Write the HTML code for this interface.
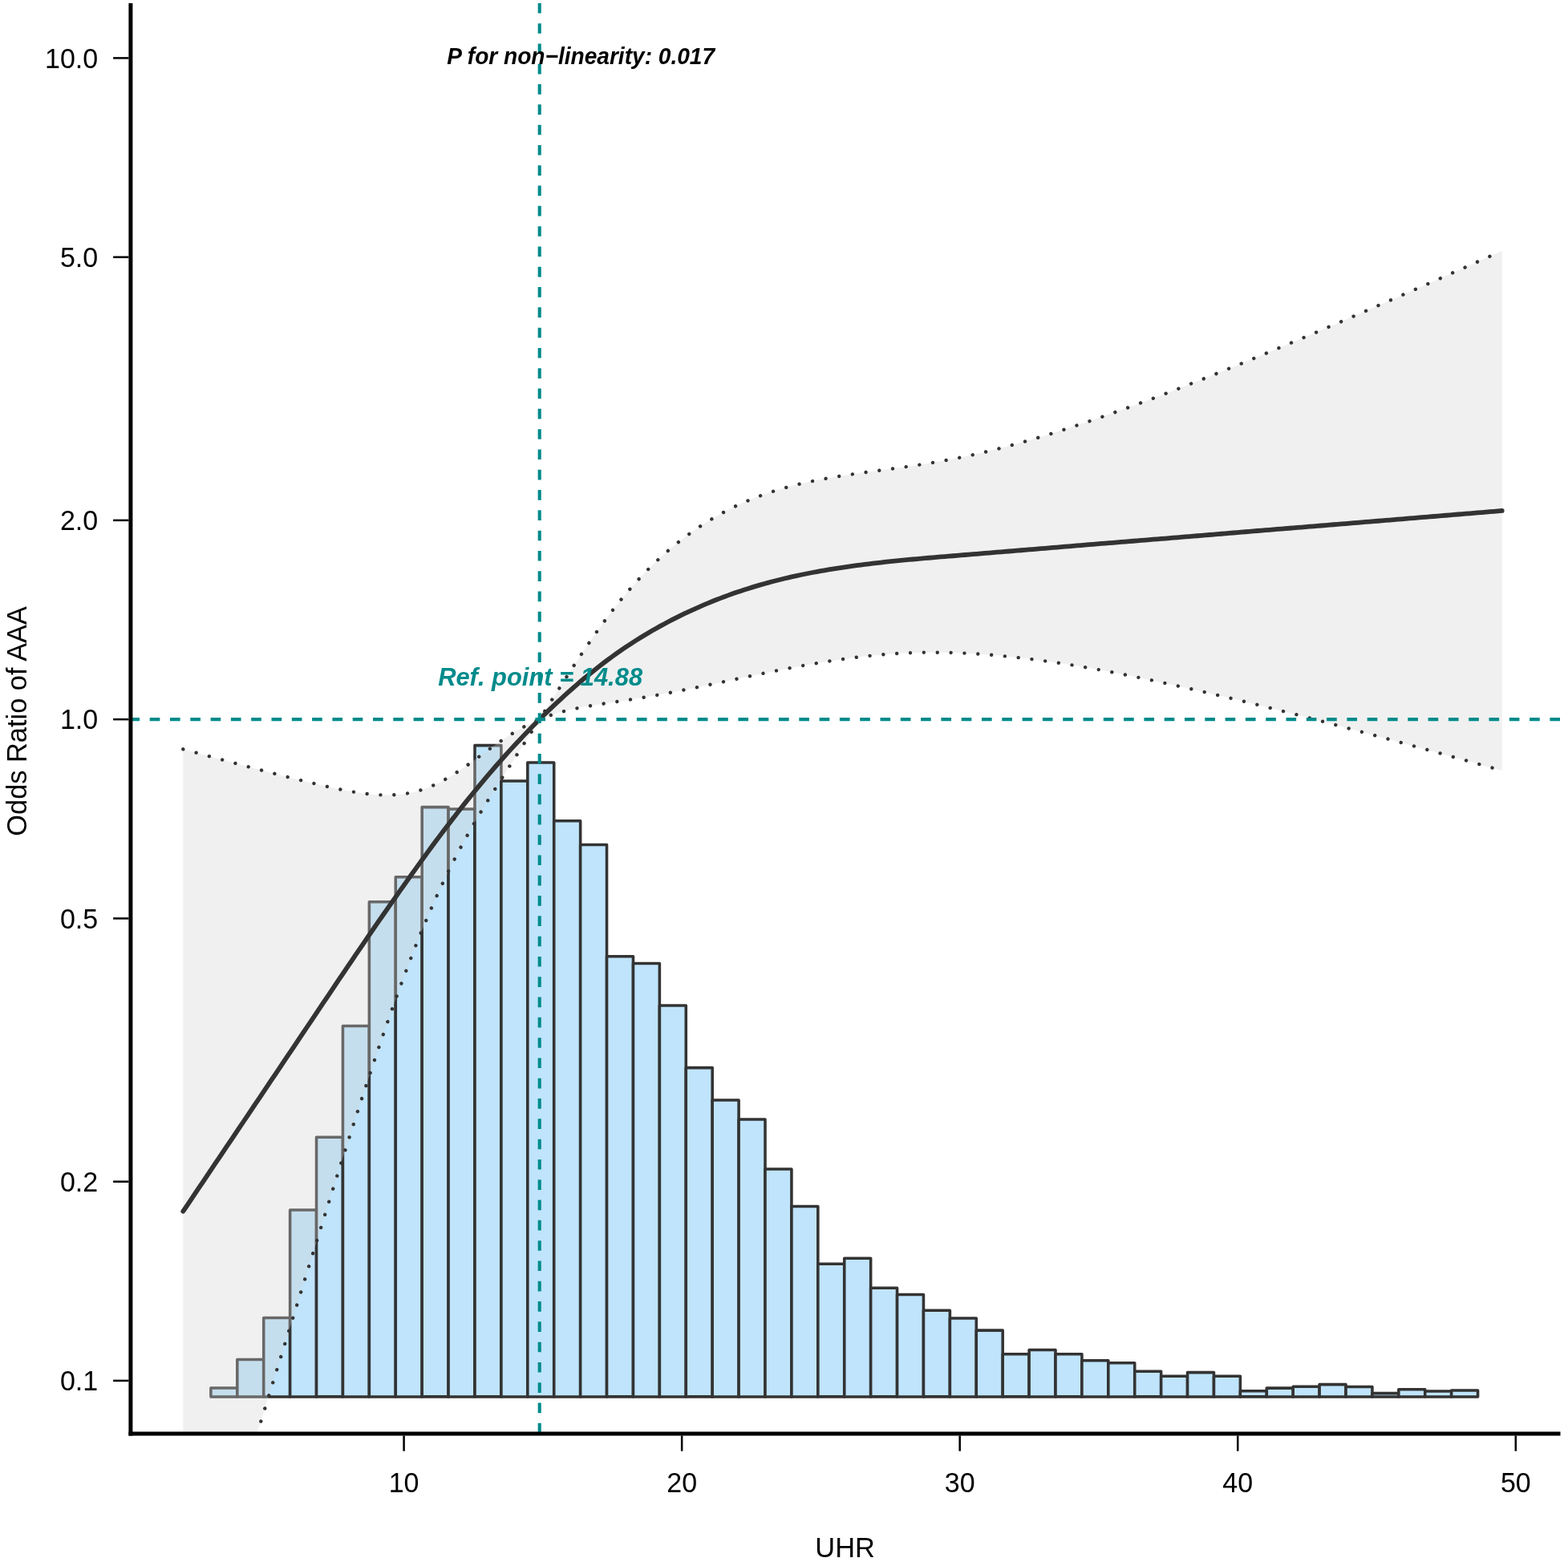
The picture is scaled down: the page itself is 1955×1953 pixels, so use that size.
<!DOCTYPE html>
<html lang="en">
<head>
<meta charset="utf-8">
<title>Odds Ratio of AAA vs UHR</title>
<style>
html,body{margin:0;padding:0;background:#ffffff;}
body{width:1955px;height:1953px;overflow:hidden;}
svg{display:block;}
</style>
</head>
<body>
<svg width="1955" height="1953" viewBox="0 0 1955 1953" font-family='"Liberation Sans", sans-serif'>
<rect x="0" y="0" width="1955" height="1953" fill="#ffffff"/>
<defs><clipPath id="panel"><rect x="162.9" y="4.0" width="1782.6" height="1783.9"/></clipPath></defs>
<g clip-path="url(#panel)">
<g fill="#bfe4fb" stroke="#333333" stroke-width="3.55" stroke-linejoin="round">
<rect x="262.90" y="1730.90" width="32.91" height="11.00"/>
<rect x="295.81" y="1695.50" width="32.91" height="46.40"/>
<rect x="328.72" y="1643.50" width="32.91" height="98.40"/>
<rect x="361.63" y="1509.00" width="32.91" height="232.90"/>
<rect x="394.54" y="1418.20" width="32.91" height="323.70"/>
<rect x="427.45" y="1279.50" width="32.91" height="462.40"/>
<rect x="460.36" y="1124.80" width="32.91" height="617.10"/>
<rect x="493.27" y="1093.80" width="32.91" height="648.10"/>
<rect x="526.18" y="1006.60" width="32.91" height="735.30"/>
<rect x="559.09" y="1008.90" width="32.91" height="733.00"/>
<rect x="592.00" y="929.60" width="32.91" height="812.30"/>
<rect x="624.91" y="974.00" width="32.91" height="767.90"/>
<rect x="657.82" y="951.00" width="32.91" height="790.90"/>
<rect x="690.73" y="1023.70" width="32.91" height="718.20"/>
<rect x="723.64" y="1053.40" width="32.91" height="688.50"/>
<rect x="756.55" y="1192.70" width="32.91" height="549.20"/>
<rect x="789.46" y="1201.50" width="32.91" height="540.40"/>
<rect x="822.37" y="1253.90" width="32.91" height="488.00"/>
<rect x="855.28" y="1331.60" width="32.91" height="410.30"/>
<rect x="888.19" y="1372.00" width="32.91" height="369.90"/>
<rect x="921.10" y="1395.90" width="32.91" height="346.00"/>
<rect x="954.01" y="1458.00" width="32.91" height="283.90"/>
<rect x="986.92" y="1504.50" width="32.91" height="237.40"/>
<rect x="1019.83" y="1576.20" width="32.91" height="165.70"/>
<rect x="1052.74" y="1569.30" width="32.91" height="172.60"/>
<rect x="1085.65" y="1606.20" width="32.91" height="135.70"/>
<rect x="1118.56" y="1614.50" width="32.91" height="127.40"/>
<rect x="1151.47" y="1634.20" width="32.91" height="107.70"/>
<rect x="1184.38" y="1643.90" width="32.91" height="98.00"/>
<rect x="1217.29" y="1659.10" width="32.91" height="82.80"/>
<rect x="1250.20" y="1688.70" width="32.91" height="53.20"/>
<rect x="1283.11" y="1683.50" width="32.91" height="58.40"/>
<rect x="1316.02" y="1688.70" width="32.91" height="53.20"/>
<rect x="1348.93" y="1696.80" width="32.91" height="45.10"/>
<rect x="1381.84" y="1699.80" width="32.91" height="42.10"/>
<rect x="1414.75" y="1710.20" width="32.91" height="31.70"/>
<rect x="1447.66" y="1716.30" width="32.91" height="25.60"/>
<rect x="1480.57" y="1711.60" width="32.91" height="30.30"/>
<rect x="1513.48" y="1716.30" width="32.91" height="25.60"/>
<rect x="1546.39" y="1734.70" width="32.91" height="7.20"/>
<rect x="1579.30" y="1731.10" width="32.91" height="10.80"/>
<rect x="1612.21" y="1729.30" width="32.91" height="12.60"/>
<rect x="1645.12" y="1726.60" width="32.91" height="15.30"/>
<rect x="1678.03" y="1729.50" width="32.91" height="12.40"/>
<rect x="1710.94" y="1737.60" width="32.91" height="4.30"/>
<rect x="1743.85" y="1732.80" width="32.91" height="9.10"/>
<rect x="1776.76" y="1734.90" width="32.91" height="7.00"/>
<rect x="1809.67" y="1734.00" width="32.91" height="7.90"/>
</g>
<path d="M228.30,934.33L233.30,935.69L238.30,937.04L243.29,938.39L248.29,939.75L253.29,941.10L258.29,942.45L263.29,943.80L268.29,945.14L273.28,946.49L278.28,947.84L283.28,949.18L288.28,950.53L293.28,951.87L298.27,953.21L303.27,954.55L308.27,955.88L313.27,957.21L318.27,958.53L323.27,959.85L328.26,961.17L333.26,962.47L338.26,963.78L343.26,965.07L348.26,966.36L353.25,967.64L358.25,968.91L363.25,970.17L368.25,971.43L373.25,972.67L378.25,973.91L383.24,975.13L388.24,976.34L393.24,977.54L398.24,978.72L403.24,979.89L408.23,981.03L413.23,982.14L418.23,983.22L423.23,984.27L428.23,985.28L433.23,986.24L438.22,987.15L443.22,988.00L448.22,988.78L453.22,989.48L458.22,990.11L463.21,990.63L468.21,991.05L473.21,991.36L478.21,991.54L483.21,991.58L488.21,991.48L493.20,991.22L498.20,990.79L503.20,990.18L508.20,989.38L513.20,988.39L518.19,987.20L523.19,985.81L528.19,984.21L533.19,982.39L538.19,980.36L543.19,978.13L548.18,975.70L553.18,973.08L558.18,970.27L563.18,967.28L568.18,964.14L573.17,960.86L578.17,957.46L583.17,953.96L588.17,950.39L593.17,946.75L598.17,943.08L603.16,939.41L608.16,935.74L613.16,932.11L618.16,928.54L623.16,925.05L628.15,921.64L633.15,918.34L638.15,915.16L643.15,912.11L648.15,909.21L653.14,906.46L658.14,903.86L663.14,901.41L668.14,899.11L672.72,897.15L673.14,896.49L678.14,888.61L683.13,880.74L688.13,872.86L693.13,865.00L698.13,857.15L703.13,849.33L708.12,841.55L713.12,833.82L718.12,826.16L723.12,818.58L728.12,811.09L733.12,803.70L738.11,796.42L743.11,789.26L748.11,782.23L753.11,775.35L758.11,768.62L763.10,762.03L768.10,755.61L773.10,749.34L778.10,743.24L783.10,737.31L788.10,731.55L793.09,725.95L798.09,720.51L803.09,715.23L808.09,710.11L813.09,705.15L818.08,700.33L823.08,695.67L828.08,691.14L833.08,686.76L838.08,682.51L843.08,678.40L848.07,674.41L853.07,670.55L858.07,666.82L863.07,663.20L868.07,659.71L873.06,656.33L878.06,653.07L883.06,649.92L888.06,646.88L893.06,643.95L898.06,641.13L903.05,638.41L908.05,635.79L913.05,633.28L918.05,630.86L923.05,628.53L928.04,626.30L933.04,624.16L938.04,622.10L943.04,620.13L948.04,618.25L953.04,616.44L958.03,614.72L963.03,613.06L968.03,611.48L973.03,609.97L978.03,608.53L983.02,607.15L988.02,605.83L993.02,604.57L998.02,603.36L1003.02,602.21L1008.02,601.10L1013.01,600.04L1018.01,599.02L1023.01,598.05L1028.01,597.11L1033.01,596.21L1038.00,595.34L1043.00,594.50L1048.00,593.68L1053.00,592.90L1058.00,592.13L1063.00,591.39L1067.99,590.66L1072.99,589.95L1077.99,589.25L1082.99,588.55L1087.99,587.87L1092.98,587.19L1097.98,586.51L1102.98,585.84L1107.98,585.16L1112.98,584.47L1117.98,583.78L1122.97,583.08L1127.97,582.37L1132.97,581.65L1137.97,580.92L1142.97,580.16L1147.96,579.39L1152.96,578.60L1157.96,577.79L1162.96,576.96L1167.96,576.11L1172.96,575.23L1177.95,574.33L1182.95,573.40L1187.95,572.44L1192.95,571.45L1197.95,570.44L1202.94,569.40L1207.94,568.33L1212.94,567.24L1217.94,566.11L1222.94,564.96L1227.94,563.78L1232.93,562.57L1237.93,561.34L1242.93,560.08L1247.93,558.80L1252.93,557.49L1257.92,556.16L1262.92,554.80L1267.92,553.43L1272.92,552.03L1277.92,550.61L1282.92,549.17L1287.91,547.71L1292.91,546.23L1297.91,544.73L1302.91,543.21L1307.91,541.68L1312.90,540.13L1317.90,538.56L1322.90,536.97L1327.90,535.37L1332.90,533.75L1337.90,532.12L1342.89,530.47L1347.89,528.81L1352.89,527.13L1357.89,525.43L1362.89,523.73L1367.88,522.01L1372.88,520.27L1377.88,518.53L1382.88,516.77L1387.88,515.00L1392.88,513.21L1397.87,511.42L1402.87,509.62L1407.87,507.80L1412.87,505.98L1417.87,504.14L1422.86,502.30L1427.86,500.44L1432.86,498.58L1437.86,496.71L1442.86,494.83L1447.86,492.93L1452.85,491.03L1457.85,489.12L1462.85,487.20L1467.85,485.28L1472.85,483.34L1477.84,481.39L1482.84,479.44L1487.84,477.48L1492.84,475.51L1497.84,473.53L1502.83,471.54L1507.83,469.55L1512.83,467.55L1517.83,465.54L1522.83,463.52L1527.83,461.50L1532.82,459.48L1537.82,457.44L1542.82,455.40L1547.82,453.36L1552.82,451.31L1557.81,449.26L1562.81,447.20L1567.81,445.14L1572.81,443.07L1577.81,441.00L1582.81,438.93L1587.80,436.85L1592.80,434.77L1597.80,432.68L1602.80,430.59L1607.80,428.50L1612.79,426.40L1617.79,424.30L1622.79,422.19L1627.79,420.08L1632.79,417.96L1637.79,415.84L1642.78,413.72L1647.78,411.59L1652.78,409.45L1657.78,407.31L1662.78,405.16L1667.77,403.01L1672.77,400.86L1677.77,398.70L1682.77,396.54L1687.77,394.38L1692.77,392.21L1697.76,390.04L1702.76,387.87L1707.76,385.70L1712.76,383.53L1717.76,381.35L1722.75,379.18L1727.75,377.00L1732.75,374.82L1737.75,372.64L1742.75,370.45L1747.75,368.26L1752.74,366.08L1757.74,363.89L1762.74,361.69L1767.74,359.50L1772.74,357.30L1777.73,355.10L1782.73,352.90L1787.73,350.69L1792.73,348.48L1797.73,346.27L1802.73,344.06L1807.72,341.85L1812.72,339.63L1817.72,337.42L1822.72,335.20L1827.72,332.98L1832.71,330.75L1837.71,328.53L1842.71,326.30L1847.71,324.07L1852.71,321.84L1857.71,319.60L1862.70,317.36L1867.70,315.12L1872.70,312.88L1872.70,961.04L1867.70,959.63L1862.70,958.22L1857.71,956.81L1852.71,955.40L1847.71,953.99L1842.71,952.59L1837.71,951.19L1832.71,949.79L1827.72,948.39L1822.72,947.00L1817.72,945.61L1812.72,944.22L1807.72,942.83L1802.73,941.44L1797.73,940.06L1792.73,938.68L1787.73,937.30L1782.73,935.92L1777.73,934.54L1772.74,933.17L1767.74,931.80L1762.74,930.42L1757.74,929.05L1752.74,927.68L1747.75,926.31L1742.75,924.95L1737.75,923.58L1732.75,922.21L1727.75,920.85L1722.75,919.49L1717.76,918.13L1712.76,916.78L1707.76,915.42L1702.76,914.07L1697.76,912.72L1692.77,911.38L1687.77,910.03L1682.77,908.69L1677.77,907.36L1672.77,906.02L1667.77,904.69L1662.78,903.36L1657.78,902.04L1652.78,900.72L1647.78,899.40L1642.78,898.09L1637.79,896.78L1632.79,895.47L1627.79,894.17L1622.79,892.87L1617.79,891.57L1612.79,890.28L1607.80,888.99L1602.80,887.71L1597.80,886.44L1592.80,885.16L1587.80,883.90L1582.81,882.64L1577.81,881.38L1572.81,880.13L1567.81,878.89L1562.81,877.65L1557.81,876.42L1552.82,875.20L1547.82,873.98L1542.82,872.77L1537.82,871.56L1532.82,870.37L1527.83,869.17L1522.83,867.98L1517.83,866.80L1512.83,865.63L1507.83,864.46L1502.83,863.29L1497.84,862.13L1492.84,860.98L1487.84,859.84L1482.84,858.70L1477.84,857.56L1472.85,856.43L1467.85,855.31L1462.85,854.20L1457.85,853.10L1452.85,852.00L1447.86,850.91L1442.86,849.83L1437.86,848.75L1432.86,847.69L1427.86,846.63L1422.86,845.58L1417.87,844.54L1412.87,843.52L1407.87,842.50L1402.87,841.49L1397.87,840.49L1392.88,839.51L1387.88,838.53L1382.88,837.57L1377.88,836.63L1372.88,835.70L1367.88,834.78L1362.89,833.87L1357.89,832.99L1352.89,832.12L1347.89,831.26L1342.89,830.42L1337.90,829.60L1332.90,828.79L1327.90,828.00L1322.90,827.23L1317.90,826.48L1312.90,825.74L1307.91,825.02L1302.91,824.32L1297.91,823.64L1292.91,822.97L1287.91,822.33L1282.92,821.70L1277.92,821.09L1272.92,820.50L1267.92,819.92L1262.92,819.37L1257.92,818.84L1252.93,818.34L1247.93,817.85L1242.93,817.39L1237.93,816.95L1232.93,816.54L1227.94,816.15L1222.94,815.79L1217.94,815.46L1212.94,815.15L1207.94,814.87L1202.94,814.62L1197.95,814.40L1192.95,814.20L1187.95,814.04L1182.95,813.90L1177.95,813.80L1172.96,813.73L1167.96,813.69L1162.96,813.68L1157.96,813.70L1152.96,813.75L1147.96,813.84L1142.97,813.96L1137.97,814.11L1132.97,814.30L1127.97,814.52L1122.97,814.78L1117.98,815.07L1112.98,815.39L1107.98,815.74L1102.98,816.13L1097.98,816.55L1092.98,817.00L1087.99,817.49L1082.99,818.00L1077.99,818.55L1072.99,819.12L1067.99,819.72L1063.00,820.35L1058.00,821.01L1053.00,821.69L1048.00,822.40L1043.00,823.13L1038.00,823.88L1033.01,824.66L1028.01,825.46L1023.01,826.28L1018.01,827.12L1013.01,827.98L1008.02,828.86L1003.02,829.75L998.02,830.67L993.02,831.60L988.02,832.54L983.02,833.50L978.03,834.47L973.03,835.46L968.03,836.45L963.03,837.46L958.03,838.48L953.04,839.50L948.04,840.54L943.04,841.58L938.04,842.62L933.04,843.68L928.04,844.74L923.05,845.80L918.05,846.86L913.05,847.92L908.05,848.99L903.05,850.05L898.06,851.11L893.06,852.17L888.06,853.22L883.06,854.27L878.06,855.31L873.06,856.35L868.07,857.38L863.07,858.39L858.07,859.40L853.07,860.40L848.07,861.39L843.08,862.36L838.08,863.32L833.08,864.27L828.08,865.21L823.08,866.13L818.08,867.03L813.09,867.92L808.09,868.79L803.09,869.64L798.09,870.48L793.09,871.30L788.10,872.10L783.10,872.89L778.10,873.67L773.10,874.44L768.10,875.20L763.10,875.95L758.11,876.71L753.11,877.47L748.11,878.24L743.11,879.04L738.11,879.85L733.12,880.71L728.12,881.60L723.12,882.55L718.12,883.56L713.12,884.63L708.12,885.79L703.13,887.04L698.13,888.39L693.13,889.85L688.13,891.43L683.13,893.14L678.14,894.99L673.14,896.98L672.72,897.15L668.14,904.34L663.14,912.18L658.14,920.00L653.14,927.80L648.15,935.59L643.15,943.38L638.15,951.16L633.15,958.95L628.15,966.76L623.16,974.60L618.16,982.50L613.16,990.47L608.16,998.53L603.16,1006.69L598.17,1014.98L593.17,1023.42L588.17,1032.04L583.17,1040.85L578.17,1049.88L573.17,1059.15L568.18,1068.67L563.18,1078.45L558.18,1088.52L553.18,1098.88L548.18,1109.55L543.19,1120.51L538.19,1131.79L533.19,1143.37L528.19,1155.26L523.19,1167.45L518.19,1179.94L513.20,1192.70L508.20,1205.74L503.20,1219.04L498.20,1232.59L493.20,1246.37L488.21,1260.37L483.21,1274.58L478.21,1288.99L473.21,1303.59L468.21,1318.35L463.21,1333.28L458.22,1348.35L453.22,1363.57L448.22,1378.91L443.22,1394.37L438.22,1409.93L433.23,1425.60L428.23,1441.34L423.23,1457.16L418.23,1473.05L413.23,1488.99L408.23,1504.98L403.24,1521.01L398.24,1537.07L393.24,1553.15L388.24,1569.25L383.24,1585.37L378.25,1601.49L373.25,1617.62L368.25,1633.76L363.25,1649.91L358.25,1666.06L353.25,1682.22L348.26,1698.37L343.26,1714.54L338.26,1730.70L333.26,1746.87L328.26,1763.04L323.27,1779.22L318.27,1790.90L313.27,1790.90L308.27,1790.90L303.27,1790.90L298.27,1790.90L293.28,1790.90L288.28,1790.90L283.28,1790.90L278.28,1790.90L273.28,1790.90L268.29,1790.90L263.29,1790.90L258.29,1790.90L253.29,1790.90L248.29,1790.90L243.29,1790.90L238.30,1790.90L233.30,1790.90L228.30,1790.90Z" fill="rgb(211,211,211)" fill-opacity="0.335" stroke="none"/>
</g>
<g clip-path="url(#panel)">
<path d="M228.30,934.33L233.30,935.69L238.30,937.04L243.29,938.39L248.29,939.75L253.29,941.10L258.29,942.45L263.29,943.80L268.29,945.14L273.28,946.49L278.28,947.84L283.28,949.18L288.28,950.53L293.28,951.87L298.27,953.21L303.27,954.55L308.27,955.88L313.27,957.21L318.27,958.53L323.27,959.85L328.26,961.17L333.26,962.47L338.26,963.78L343.26,965.07L348.26,966.36L353.25,967.64L358.25,968.91L363.25,970.17L368.25,971.43L373.25,972.67L378.25,973.91L383.24,975.13L388.24,976.34L393.24,977.54L398.24,978.72L403.24,979.89L408.23,981.03L413.23,982.14L418.23,983.22L423.23,984.27L428.23,985.28L433.23,986.24L438.22,987.15L443.22,988.00L448.22,988.78L453.22,989.48L458.22,990.11L463.21,990.63L468.21,991.05L473.21,991.36L478.21,991.54L483.21,991.58L488.21,991.48L493.20,991.22L498.20,990.79L503.20,990.18L508.20,989.38L513.20,988.39L518.19,987.20L523.19,985.81L528.19,984.21L533.19,982.39L538.19,980.36L543.19,978.13L548.18,975.70L553.18,973.08L558.18,970.27L563.18,967.28L568.18,964.14L573.17,960.86L578.17,957.46L583.17,953.96L588.17,950.39L593.17,946.75L598.17,943.08L603.16,939.41L608.16,935.74L613.16,932.11L618.16,928.54L623.16,925.05L628.15,921.64L633.15,918.34L638.15,915.16L643.15,912.11L648.15,909.21L653.14,906.46L658.14,903.86L663.14,901.41L668.14,899.11L672.72,897.15L673.14,896.49L678.14,888.61L683.13,880.74L688.13,872.86L693.13,865.00L698.13,857.15L703.13,849.33L708.12,841.55L713.12,833.82L718.12,826.16L723.12,818.58L728.12,811.09L733.12,803.70L738.11,796.42L743.11,789.26L748.11,782.23L753.11,775.35L758.11,768.62L763.10,762.03L768.10,755.61L773.10,749.34L778.10,743.24L783.10,737.31L788.10,731.55L793.09,725.95L798.09,720.51L803.09,715.23L808.09,710.11L813.09,705.15L818.08,700.33L823.08,695.67L828.08,691.14L833.08,686.76L838.08,682.51L843.08,678.40L848.07,674.41L853.07,670.55L858.07,666.82L863.07,663.20L868.07,659.71L873.06,656.33L878.06,653.07L883.06,649.92L888.06,646.88L893.06,643.95L898.06,641.13L903.05,638.41L908.05,635.79L913.05,633.28L918.05,630.86L923.05,628.53L928.04,626.30L933.04,624.16L938.04,622.10L943.04,620.13L948.04,618.25L953.04,616.44L958.03,614.72L963.03,613.06L968.03,611.48L973.03,609.97L978.03,608.53L983.02,607.15L988.02,605.83L993.02,604.57L998.02,603.36L1003.02,602.21L1008.02,601.10L1013.01,600.04L1018.01,599.02L1023.01,598.05L1028.01,597.11L1033.01,596.21L1038.00,595.34L1043.00,594.50L1048.00,593.68L1053.00,592.90L1058.00,592.13L1063.00,591.39L1067.99,590.66L1072.99,589.95L1077.99,589.25L1082.99,588.55L1087.99,587.87L1092.98,587.19L1097.98,586.51L1102.98,585.84L1107.98,585.16L1112.98,584.47L1117.98,583.78L1122.97,583.08L1127.97,582.37L1132.97,581.65L1137.97,580.92L1142.97,580.16L1147.96,579.39L1152.96,578.60L1157.96,577.79L1162.96,576.96L1167.96,576.11L1172.96,575.23L1177.95,574.33L1182.95,573.40L1187.95,572.44L1192.95,571.45L1197.95,570.44L1202.94,569.40L1207.94,568.33L1212.94,567.24L1217.94,566.11L1222.94,564.96L1227.94,563.78L1232.93,562.57L1237.93,561.34L1242.93,560.08L1247.93,558.80L1252.93,557.49L1257.92,556.16L1262.92,554.80L1267.92,553.43L1272.92,552.03L1277.92,550.61L1282.92,549.17L1287.91,547.71L1292.91,546.23L1297.91,544.73L1302.91,543.21L1307.91,541.68L1312.90,540.13L1317.90,538.56L1322.90,536.97L1327.90,535.37L1332.90,533.75L1337.90,532.12L1342.89,530.47L1347.89,528.81L1352.89,527.13L1357.89,525.43L1362.89,523.73L1367.88,522.01L1372.88,520.27L1377.88,518.53L1382.88,516.77L1387.88,515.00L1392.88,513.21L1397.87,511.42L1402.87,509.62L1407.87,507.80L1412.87,505.98L1417.87,504.14L1422.86,502.30L1427.86,500.44L1432.86,498.58L1437.86,496.71L1442.86,494.83L1447.86,492.93L1452.85,491.03L1457.85,489.12L1462.85,487.20L1467.85,485.28L1472.85,483.34L1477.84,481.39L1482.84,479.44L1487.84,477.48L1492.84,475.51L1497.84,473.53L1502.83,471.54L1507.83,469.55L1512.83,467.55L1517.83,465.54L1522.83,463.52L1527.83,461.50L1532.82,459.48L1537.82,457.44L1542.82,455.40L1547.82,453.36L1552.82,451.31L1557.81,449.26L1562.81,447.20L1567.81,445.14L1572.81,443.07L1577.81,441.00L1582.81,438.93L1587.80,436.85L1592.80,434.77L1597.80,432.68L1602.80,430.59L1607.80,428.50L1612.79,426.40L1617.79,424.30L1622.79,422.19L1627.79,420.08L1632.79,417.96L1637.79,415.84L1642.78,413.72L1647.78,411.59L1652.78,409.45L1657.78,407.31L1662.78,405.16L1667.77,403.01L1672.77,400.86L1677.77,398.70L1682.77,396.54L1687.77,394.38L1692.77,392.21L1697.76,390.04L1702.76,387.87L1707.76,385.70L1712.76,383.53L1717.76,381.35L1722.75,379.18L1727.75,377.00L1732.75,374.82L1737.75,372.64L1742.75,370.45L1747.75,368.26L1752.74,366.08L1757.74,363.89L1762.74,361.69L1767.74,359.50L1772.74,357.30L1777.73,355.10L1782.73,352.90L1787.73,350.69L1792.73,348.48L1797.73,346.27L1802.73,344.06L1807.72,341.85L1812.72,339.63L1817.72,337.42L1822.72,335.20L1827.72,332.98L1832.71,330.75L1837.71,328.53L1842.71,326.30L1847.71,324.07L1852.71,321.84L1857.71,319.60L1862.70,317.36L1867.70,315.12L1872.70,312.88" fill="none" stroke="#333333" stroke-width="4.4" stroke-linecap="round" stroke-dasharray="0.01 16.857" stroke-dashoffset="0.0"/>
<path d="M228.30,2087.08L233.30,2070.86L238.30,2054.63L243.29,2038.41L248.29,2022.19L253.29,2005.98L258.29,1989.76L263.29,1973.55L268.29,1957.34L273.28,1941.13L278.28,1924.93L283.28,1908.73L288.28,1892.53L293.28,1876.33L298.27,1860.14L303.27,1843.95L308.27,1827.76L313.27,1811.58L318.27,1795.39L323.27,1779.22L328.26,1763.04L333.26,1746.87L338.26,1730.70L343.26,1714.54L348.26,1698.37L353.25,1682.22L358.25,1666.06L363.25,1649.91L368.25,1633.76L373.25,1617.62L378.25,1601.49L383.24,1585.37L388.24,1569.25L393.24,1553.15L398.24,1537.07L403.24,1521.01L408.23,1504.98L413.23,1488.99L418.23,1473.05L423.23,1457.16L428.23,1441.34L433.23,1425.60L438.22,1409.93L443.22,1394.37L448.22,1378.91L453.22,1363.57L458.22,1348.35L463.21,1333.28L468.21,1318.35L473.21,1303.59L478.21,1288.99L483.21,1274.58L488.21,1260.37L493.20,1246.37L498.20,1232.59L503.20,1219.04L508.20,1205.74L513.20,1192.70L518.19,1179.94L523.19,1167.45L528.19,1155.26L533.19,1143.37L538.19,1131.79L543.19,1120.51L548.18,1109.55L553.18,1098.88L558.18,1088.52L563.18,1078.45L568.18,1068.67L573.17,1059.15L578.17,1049.88L583.17,1040.85L588.17,1032.04L593.17,1023.42L598.17,1014.98L603.16,1006.69L608.16,998.53L613.16,990.47L618.16,982.50L623.16,974.60L628.15,966.76L633.15,958.95L638.15,951.16L643.15,943.38L648.15,935.59L653.14,927.80L658.14,920.00L663.14,912.18L668.14,904.34L672.72,897.15L673.14,896.98L678.14,894.99L683.13,893.14L688.13,891.43L693.13,889.85L698.13,888.39L703.13,887.04L708.12,885.79L713.12,884.63L718.12,883.56L723.12,882.55L728.12,881.60L733.12,880.71L738.11,879.85L743.11,879.04L748.11,878.24L753.11,877.47L758.11,876.71L763.10,875.95L768.10,875.20L773.10,874.44L778.10,873.67L783.10,872.89L788.10,872.10L793.09,871.30L798.09,870.48L803.09,869.64L808.09,868.79L813.09,867.92L818.08,867.03L823.08,866.13L828.08,865.21L833.08,864.27L838.08,863.32L843.08,862.36L848.07,861.39L853.07,860.40L858.07,859.40L863.07,858.39L868.07,857.38L873.06,856.35L878.06,855.31L883.06,854.27L888.06,853.22L893.06,852.17L898.06,851.11L903.05,850.05L908.05,848.99L913.05,847.92L918.05,846.86L923.05,845.80L928.04,844.74L933.04,843.68L938.04,842.62L943.04,841.58L948.04,840.54L953.04,839.50L958.03,838.48L963.03,837.46L968.03,836.45L973.03,835.46L978.03,834.47L983.02,833.50L988.02,832.54L993.02,831.60L998.02,830.67L1003.02,829.75L1008.02,828.86L1013.01,827.98L1018.01,827.12L1023.01,826.28L1028.01,825.46L1033.01,824.66L1038.00,823.88L1043.00,823.13L1048.00,822.40L1053.00,821.69L1058.00,821.01L1063.00,820.35L1067.99,819.72L1072.99,819.12L1077.99,818.55L1082.99,818.00L1087.99,817.49L1092.98,817.00L1097.98,816.55L1102.98,816.13L1107.98,815.74L1112.98,815.39L1117.98,815.07L1122.97,814.78L1127.97,814.52L1132.97,814.30L1137.97,814.11L1142.97,813.96L1147.96,813.84L1152.96,813.75L1157.96,813.70L1162.96,813.68L1167.96,813.69L1172.96,813.73L1177.95,813.80L1182.95,813.90L1187.95,814.04L1192.95,814.20L1197.95,814.40L1202.94,814.62L1207.94,814.87L1212.94,815.15L1217.94,815.46L1222.94,815.79L1227.94,816.15L1232.93,816.54L1237.93,816.95L1242.93,817.39L1247.93,817.85L1252.93,818.34L1257.92,818.84L1262.92,819.37L1267.92,819.92L1272.92,820.50L1277.92,821.09L1282.92,821.70L1287.91,822.33L1292.91,822.97L1297.91,823.64L1302.91,824.32L1307.91,825.02L1312.90,825.74L1317.90,826.48L1322.90,827.23L1327.90,828.00L1332.90,828.79L1337.90,829.60L1342.89,830.42L1347.89,831.26L1352.89,832.12L1357.89,832.99L1362.89,833.87L1367.88,834.78L1372.88,835.70L1377.88,836.63L1382.88,837.57L1387.88,838.53L1392.88,839.51L1397.87,840.49L1402.87,841.49L1407.87,842.50L1412.87,843.52L1417.87,844.54L1422.86,845.58L1427.86,846.63L1432.86,847.69L1437.86,848.75L1442.86,849.83L1447.86,850.91L1452.85,852.00L1457.85,853.10L1462.85,854.20L1467.85,855.31L1472.85,856.43L1477.84,857.56L1482.84,858.70L1487.84,859.84L1492.84,860.98L1497.84,862.13L1502.83,863.29L1507.83,864.46L1512.83,865.63L1517.83,866.80L1522.83,867.98L1527.83,869.17L1532.82,870.37L1537.82,871.56L1542.82,872.77L1547.82,873.98L1552.82,875.20L1557.81,876.42L1562.81,877.65L1567.81,878.89L1572.81,880.13L1577.81,881.38L1582.81,882.64L1587.80,883.90L1592.80,885.16L1597.80,886.44L1602.80,887.71L1607.80,888.99L1612.79,890.28L1617.79,891.57L1622.79,892.87L1627.79,894.17L1632.79,895.47L1637.79,896.78L1642.78,898.09L1647.78,899.40L1652.78,900.72L1657.78,902.04L1662.78,903.36L1667.77,904.69L1672.77,906.02L1677.77,907.36L1682.77,908.69L1687.77,910.03L1692.77,911.38L1697.76,912.72L1702.76,914.07L1707.76,915.42L1712.76,916.78L1717.76,918.13L1722.75,919.49L1727.75,920.85L1732.75,922.21L1737.75,923.58L1742.75,924.95L1747.75,926.31L1752.74,927.68L1757.74,929.05L1762.74,930.42L1767.74,931.80L1772.74,933.17L1777.73,934.54L1782.73,935.92L1787.73,937.30L1792.73,938.68L1797.73,940.06L1802.73,941.44L1807.72,942.83L1812.72,944.22L1817.72,945.61L1822.72,947.00L1827.72,948.39L1832.71,949.79L1837.71,951.19L1842.71,952.59L1847.71,953.99L1852.71,955.40L1857.71,956.81L1862.70,958.22L1867.70,959.63L1872.70,961.04" fill="none" stroke="#333333" stroke-width="4.4" stroke-linecap="round" stroke-dasharray="0.01 16.857" stroke-dashoffset="-8.63"/>
<path d="M228.30,1510.71L233.30,1503.27L238.30,1495.84L243.29,1488.40L248.29,1480.97L253.29,1473.54L258.29,1466.10L263.29,1458.67L268.29,1451.24L273.28,1443.81L278.28,1436.38L283.28,1428.95L288.28,1421.53L293.28,1414.10L298.27,1406.67L303.27,1399.25L308.27,1391.82L313.27,1384.39L318.27,1376.96L323.27,1369.53L328.26,1362.10L333.26,1354.67L338.26,1347.24L343.26,1339.80L348.26,1332.37L353.25,1324.93L358.25,1317.48L363.25,1310.04L368.25,1302.59L373.25,1295.15L378.25,1287.70L383.24,1280.25L388.24,1272.80L393.24,1265.35L398.24,1257.90L403.24,1250.45L408.23,1243.01L413.23,1235.57L418.23,1228.14L423.23,1220.72L428.23,1213.31L433.23,1205.92L438.22,1198.54L443.22,1191.18L448.22,1183.84L453.22,1176.53L458.22,1169.23L463.21,1161.96L468.21,1154.70L473.21,1147.47L478.21,1140.27L483.21,1133.08L488.21,1125.92L493.20,1118.79L498.20,1111.69L503.20,1104.61L508.20,1097.56L513.20,1090.55L518.19,1083.57L523.19,1076.63L528.19,1069.73L533.19,1062.88L538.19,1056.08L543.19,1049.32L548.18,1042.62L553.18,1035.98L558.18,1029.39L563.18,1022.87L568.18,1016.40L573.17,1010.00L578.17,1003.67L583.17,997.41L588.17,991.21L593.17,985.09L598.17,979.03L603.16,973.05L608.16,967.13L613.16,961.29L618.16,955.52L623.16,949.82L628.15,944.20L633.15,938.64L638.15,933.16L643.15,927.75L648.15,922.40L653.14,917.13L658.14,911.93L663.14,906.79L668.14,901.73L672.72,897.15L673.14,896.73L678.14,891.80L683.13,886.94L688.13,882.15L693.13,877.42L698.13,872.77L703.13,868.18L708.12,863.67L713.12,859.23L718.12,854.86L723.12,850.56L728.12,846.34L733.12,842.20L738.11,838.14L743.11,834.15L748.11,830.24L753.11,826.41L758.11,822.66L763.10,818.99L768.10,815.40L773.10,811.89L778.10,808.46L783.10,805.10L788.10,801.83L793.09,798.62L798.09,795.49L803.09,792.44L808.09,789.45L813.09,786.53L818.08,783.68L823.08,780.90L828.08,778.18L833.08,775.52L838.08,772.92L843.08,770.38L848.07,767.90L853.07,765.48L858.07,763.11L863.07,760.80L868.07,758.54L873.06,756.34L878.06,754.19L883.06,752.10L888.06,750.05L893.06,748.06L898.06,746.12L903.05,744.23L908.05,742.39L913.05,740.60L918.05,738.86L923.05,737.16L928.04,735.52L933.04,733.92L938.04,732.36L943.04,730.86L948.04,729.39L953.04,727.97L958.03,726.60L963.03,725.26L968.03,723.97L973.03,722.71L978.03,721.50L983.02,720.32L988.02,719.19L993.02,718.08L998.02,717.01L1003.02,715.98L1008.02,714.98L1013.01,714.01L1018.01,713.07L1023.01,712.16L1028.01,711.28L1033.01,710.43L1038.00,709.61L1043.00,708.81L1048.00,708.04L1053.00,707.29L1058.00,706.57L1063.00,705.87L1067.99,705.19L1072.99,704.53L1077.99,703.90L1082.99,703.28L1087.99,702.68L1092.98,702.10L1097.98,701.53L1102.98,700.98L1107.98,700.45L1112.98,699.93L1117.98,699.42L1122.97,698.93L1127.97,698.45L1132.97,697.98L1137.97,697.51L1142.97,697.06L1147.96,696.62L1152.96,696.18L1157.96,695.75L1162.96,695.32L1167.96,694.90L1172.96,694.48L1177.95,694.06L1182.95,693.65L1187.95,693.24L1192.95,692.83L1197.95,692.42L1202.94,692.01L1207.94,691.60L1212.94,691.19L1217.94,690.78L1222.94,690.37L1227.94,689.97L1232.93,689.56L1237.93,689.15L1242.93,688.73L1247.93,688.32L1252.93,687.91L1257.92,687.50L1262.92,687.09L1267.92,686.67L1272.92,686.26L1277.92,685.85L1282.92,685.43L1287.91,685.02L1292.91,684.60L1297.91,684.18L1302.91,683.77L1307.91,683.35L1312.90,682.93L1317.90,682.52L1322.90,682.10L1327.90,681.69L1332.90,681.27L1337.90,680.86L1342.89,680.44L1347.89,680.03L1352.89,679.62L1357.89,679.21L1362.89,678.80L1367.88,678.39L1372.88,677.98L1377.88,677.58L1382.88,677.17L1387.88,676.77L1392.88,676.36L1397.87,675.96L1402.87,675.55L1407.87,675.15L1412.87,674.75L1417.87,674.34L1422.86,673.94L1427.86,673.54L1432.86,673.13L1437.86,672.73L1442.86,672.33L1447.86,671.92L1452.85,671.52L1457.85,671.11L1462.85,670.70L1467.85,670.30L1472.85,669.89L1477.84,669.48L1482.84,669.07L1487.84,668.66L1492.84,668.24L1497.84,667.83L1502.83,667.42L1507.83,667.00L1512.83,666.59L1517.83,666.17L1522.83,665.75L1527.83,665.34L1532.82,664.92L1537.82,664.50L1542.82,664.09L1547.82,663.67L1552.82,663.26L1557.81,662.84L1562.81,662.43L1567.81,662.01L1572.81,661.60L1577.81,661.19L1582.81,660.78L1587.80,660.37L1592.80,659.97L1597.80,659.56L1602.80,659.15L1607.80,658.75L1612.79,658.34L1617.79,657.93L1622.79,657.53L1627.79,657.12L1632.79,656.72L1637.79,656.31L1642.78,655.90L1647.78,655.49L1652.78,655.08L1657.78,654.67L1662.78,654.26L1667.77,653.85L1672.77,653.44L1677.77,653.03L1682.77,652.62L1687.77,652.21L1692.77,651.80L1697.76,651.38L1702.76,650.97L1707.76,650.56L1712.76,650.15L1717.76,649.74L1722.75,649.33L1727.75,648.92L1732.75,648.52L1737.75,648.11L1742.75,647.70L1747.75,647.29L1752.74,646.88L1757.74,646.47L1762.74,646.06L1767.74,645.65L1772.74,645.23L1777.73,644.82L1782.73,644.41L1787.73,643.99L1792.73,643.58L1797.73,643.17L1802.73,642.75L1807.72,642.34L1812.72,641.93L1817.72,641.51L1822.72,641.10L1827.72,640.68L1832.71,640.27L1837.71,639.86L1842.71,639.44L1847.71,639.03L1852.71,638.62L1857.71,638.20L1862.70,637.79L1867.70,637.37L1872.70,636.96" fill="none" stroke="#333333" stroke-width="5.8" stroke-linecap="round" stroke-linejoin="round"/>
<line x1="161.40" y1="897.15" x2="1945.5" y2="897.15" stroke="#008b8b" stroke-width="4.1" stroke-dasharray="12.65 12.65"/>
<line x1="672.72" y1="3.85" x2="672.72" y2="1787.9" stroke="#008b8b" stroke-width="4.1" stroke-dasharray="12.65 12.65"/>
</g>
<text transform="translate(724.20,79.70) scale(1,1.04)" text-anchor="middle" font-size="28.1" font-weight="bold" font-style="italic" fill="#000000">P for non−linearity: 0.017</text>
<text transform="translate(673.60,854.50) scale(1,1.04)" text-anchor="middle" font-size="30.9" font-weight="bold" font-style="italic" fill="#008b8b">Ref. point = 14.88</text>
<g stroke="#000000" fill="none">
<line x1="162.9" y1="4.0" x2="162.9" y2="1790.4" stroke-width="5.0"/>
<line x1="160.4" y1="1787.9" x2="1945.5" y2="1787.9" stroke-width="5.0"/>
<line x1="141.10" y1="72.40" x2="160.40" y2="72.40" stroke-width="2.5"/>
<line x1="141.10" y1="320.67" x2="160.40" y2="320.67" stroke-width="2.5"/>
<line x1="141.10" y1="648.88" x2="160.40" y2="648.88" stroke-width="2.5"/>
<line x1="141.10" y1="897.15" x2="160.40" y2="897.15" stroke-width="2.5"/>
<line x1="141.10" y1="1145.42" x2="160.40" y2="1145.42" stroke-width="2.5"/>
<line x1="141.10" y1="1473.63" x2="160.40" y2="1473.63" stroke-width="2.5"/>
<line x1="141.10" y1="1721.90" x2="160.40" y2="1721.90" stroke-width="2.5"/>
<line x1="503.60" y1="1790.40" x2="503.60" y2="1809.70" stroke-width="2.5"/>
<line x1="850.15" y1="1790.40" x2="850.15" y2="1809.70" stroke-width="2.5"/>
<line x1="1196.70" y1="1790.40" x2="1196.70" y2="1809.70" stroke-width="2.5"/>
<line x1="1543.25" y1="1790.40" x2="1543.25" y2="1809.70" stroke-width="2.5"/>
<line x1="1889.80" y1="1790.40" x2="1889.80" y2="1809.70" stroke-width="2.5"/>
</g>
<g fill="#000000">
<text transform="translate(122.20,84.70) scale(1,1.04)" text-anchor="end" font-size="34.0" >10.0</text>
<text transform="translate(122.20,332.97) scale(1,1.04)" text-anchor="end" font-size="34.0" >5.0</text>
<text transform="translate(122.20,661.18) scale(1,1.04)" text-anchor="end" font-size="34.0" >2.0</text>
<text transform="translate(122.20,909.45) scale(1,1.04)" text-anchor="end" font-size="34.0" >1.0</text>
<text transform="translate(122.20,1157.72) scale(1,1.04)" text-anchor="end" font-size="34.0" >0.5</text>
<text transform="translate(122.20,1485.93) scale(1,1.04)" text-anchor="end" font-size="34.0" >0.2</text>
<text transform="translate(122.20,1734.20) scale(1,1.04)" text-anchor="end" font-size="34.0" >0.1</text>
<text transform="translate(503.60,1860.80) scale(1,1.04)" text-anchor="middle" font-size="34.0" >10</text>
<text transform="translate(850.15,1860.80) scale(1,1.04)" text-anchor="middle" font-size="34.0" >20</text>
<text transform="translate(1196.70,1860.80) scale(1,1.04)" text-anchor="middle" font-size="34.0" >30</text>
<text transform="translate(1543.25,1860.80) scale(1,1.04)" text-anchor="middle" font-size="34.0" >40</text>
<text transform="translate(1889.80,1860.80) scale(1,1.04)" text-anchor="middle" font-size="34.0" >50</text>
<text transform="translate(33.30,899.40) rotate(-90) scale(1,1.04)" text-anchor="middle" font-size="34.4" >Odds Ratio of AAA</text>
<text transform="translate(1053.60,1941.80) scale(1,1.04)" text-anchor="middle" font-size="34.4" >UHR</text>
</g>
</svg>
</body>
</html>
